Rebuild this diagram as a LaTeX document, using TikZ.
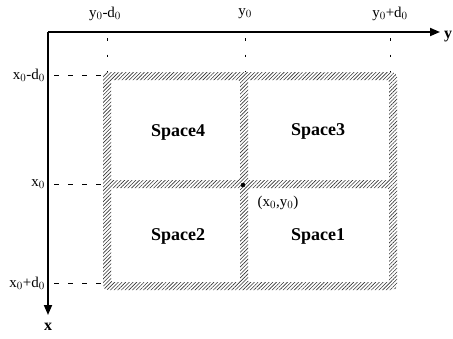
\documentclass[tikz,border=0pt]{standalone}
\usepackage{fontspec}
\setmainfont{Liberation Serif}
\usetikzlibrary{patterns.meta,arrows.meta}
\begin{document}
\begin{tikzpicture}[x=1pt,y=-1pt,
  axis/.style={line width=1.8pt,-{Triangle[length=10pt,width=8pt]}},
  tick/.style={line width=0.6pt,dash pattern=on 2.5pt off 14pt},
  guide/.style={line width=0.6pt,dash pattern=on 5pt off 9pt},
  lbl/.style={font=\fontsize{15}{17}\selectfont,inner sep=1pt},
  space/.style={font=\bfseries\fontsize{18}{20}\selectfont},
  hatch/.style={draw=none,even odd rule,pattern={Lines[angle=45,distance=2.6pt,line width=0.6pt]},pattern color=black!80}]
\useasboundingbox (0,0) rectangle (453,338);
% hatched walls
\path[hatch] [rounded corners=5pt] (103,72) rectangle (397,290)
  [rounded corners=1.5pt] (111,80) rectangle (240,180) (248,80) rectangle (389,180)
  (111,188) rectangle (240,282) (248,188) rectangle (389,282);
% axes
\coordinate (O) at (48,32);
\coordinate (ytip) at (440,32);
\coordinate (xtip) at (48,315);
\draw[axis] (O) -- (ytip);
\draw[axis] (O) -- (xtip);
\node[font=\bfseries\fontsize{16}{18}\selectfont] (ylab) at (448,37) {y};
\node[font=\bfseries\fontsize{16}{18}\selectfont] (xlab) at (48,327) {x};
% top labels
\node[lbl] (ym) at (105,14) {y$_0$-d$_0$};
\node[lbl] (yc) at (245,14) {y$_0$};
\node[lbl] (yp) at (390,14) {y$_0$+d$_0$};
% left labels
\node[lbl,anchor=east] (xm) at (46,75) {x$_0$-d$_0$};
\node[lbl,anchor=east] (xc) at (46,184) {x$_0$};
\node[lbl,anchor=east] (xp) at (46,283) {x$_0$+d$_0$};
% tick dashes
\foreach \xx in {107,245,390}{
  \draw[tick] (\xx,38) -- (\xx,72);
}
\foreach \yy in {75,184,283}{
  \draw[guide] (54,\yy) -- (103,\yy);
}
% centre point
\fill (243,185) circle (2.3pt);
\node[lbl] (c) at (278,203) {(x$_0$,y$_0$)};
% spaces
\node[space] (s4) at (178,132) {Space4};
\node[space] (s3) at (318,131) {Space3};
\node[space] (s2) at (178,236) {Space2};
\node[space] (s1) at (318,236) {Space1};
\end{tikzpicture}
\end{document}
